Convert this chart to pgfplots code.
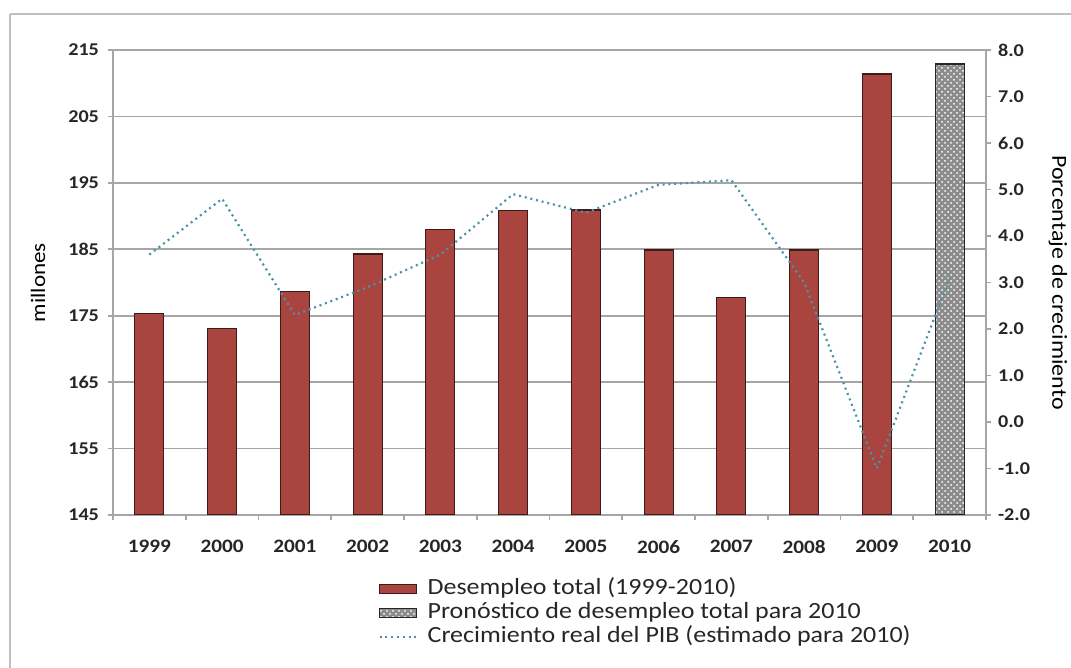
\documentclass[border=0pt]{standalone}
\usepackage{fontspec}
\setmainfont{Carlito}[FakeStretch=1.12]
\usepackage{pgfplots}
\pgfplotsset{compat=1.18}
\usetikzlibrary{patterns}
\definecolor{barred}{HTML}{A9443F}
\definecolor{baredge}{HTML}{3E1A18}
\definecolor{linecol}{HTML}{4A93A8}
\definecolor{gridgray}{HTML}{A6A6A6}
\pgfplotsset{
  rectleg/.style={legend image code/.code={\draw[##1] (0pt,-2.25pt) rectangle (18.5pt,2.25pt);}},
  lineleg/.style={legend image code/.code={\draw[##1] (0pt,0pt) -- (18.5pt,0pt);}},
}
\begin{document}
\begin{tikzpicture}[x=1pt,y=1pt]
\path[use as bounding box] (0,0) rectangle (535.5,334);
\draw[gray!50, line width=0.8pt] (5,327) -- (535.5,327);
\draw[gray!50, line width=0.8pt] (5,327) -- (5,0);
\begin{axis}[
  at={(56.5pt,76.5pt)}, anchor=south west,
  scale only axis, width=436.5pt, height=232.5pt,
  xmin=-0.5, xmax=11.5, ymin=145, ymax=215,
  ytick={145,155,...,215},
  xtick={-0.5,0.5,...,11.5}, xticklabels=\empty,
  extra x ticks={0,...,11},
  extra x tick labels={1999,2000,2001,2002,2003,2004,2005,2006,2007,2008,2009,2010},
  extra x tick style={major tick length=0pt, grid=none},
  axis x line*=bottom, axis y line*=left,
  tick align=outside, major tick length=2.5pt,
  axis line style={gridgray, line width=0.8pt},
  tick style={gridgray, line width=0.8pt},
  grid style={gridgray, line width=0.8pt},
  ymajorgrids,
  tick label style={font=\fontsize{9}{11}\selectfont\bfseries, text=black!85},
  xticklabel style={yshift=-9pt, font=\fontsize{9.5}{11}\selectfont\bfseries},
  yticklabel style={xshift=-1pt},
  /pgf/number format/assume math mode=true,
  ylabel={millones},
  ylabel style={at={(axis description cs:-0.0859,0.5)}, anchor=center, font=\fontsize{10.3}{13}\selectfont},
  clip=true,
]
\addplot[ybar, bar width=14.5pt, bar shift=0pt, fill=barred, draw=baredge, line width=0.6pt]
  coordinates {(0,175.3) (1,173.1) (2,178.7) (3,184.3) (4,188.0) (5,190.8) (6,190.9) (7,184.9) (8,177.7) (9,184.9) (10,211.4)};
\addplot[ybar, bar width=14.5pt, bar shift=0pt, fill=black!45, draw=black!85, line width=0.6pt,
  postaction={pattern=crosshatch dots, pattern color=white}]
  coordinates {(11,212.9)};
\end{axis}
\begin{axis}[
  at={(56.5pt,76.5pt)}, anchor=south west,
  scale only axis, width=436.5pt, height=232.5pt,
  xmin=-0.5, xmax=11.5, ymin=-2, ymax=8,
  ytick={-2,-1,...,8},
  axis x line=none, axis y line*=right,
  tick align=outside, major tick length=2.5pt,
  axis line style={gridgray, line width=0.8pt},
  tick style={gridgray, line width=0.8pt},
  tick label style={font=\fontsize{9}{11}\selectfont\bfseries, text=black!85},
  yticklabel style={/pgf/number format/.cd, fixed, fixed zerofill, precision=1, assume math mode=true},
  ylabel={Porcentaje de crecimiento},
  ylabel style={at={(axis description cs:1.0825,0.5)}, anchor=center, rotate=180, font=\fontsize{10.7}{13}\selectfont},
  legend style={at={(axis description cs:0.3036,-0.132)}, anchor=north west, draw=none, fill=none,
    inner sep=0pt, row sep=0pt, font=\fontsize{11.6}{12}\selectfont, text=black!85,
    nodes={text height=7.5pt, text depth=1.5pt, inner sep=1.5pt},
    /tikz/every odd column/.append style={column sep=3.5pt}},
  legend cell align=left,
]
\addlegendimage{rectleg, fill=barred, draw=baredge, line width=0.6pt}
\addlegendentry{Desempleo total (1999-2010)}
\addlegendimage{rectleg, fill=black!45, draw=black!85, line width=0.6pt, postaction={pattern=crosshatch dots, pattern color=white}}
\addlegendentry{Pronóstico de desempleo total para 2010}
\addplot[lineleg, linecol, line width=1.1pt, dash pattern=on 1pt off 1.9pt, mark=none]
  coordinates {(0,3.6) (1,4.8) (2,2.3) (3,2.9) (4,3.6) (5,4.9) (6,4.5) (7,5.1) (8,5.2) (9,3.0) (10,-1.0) (11,3.1)};
\addlegendentry{Crecimiento real del PIB (estimado para 2010)}
\end{axis}
\end{tikzpicture}
\end{document}
